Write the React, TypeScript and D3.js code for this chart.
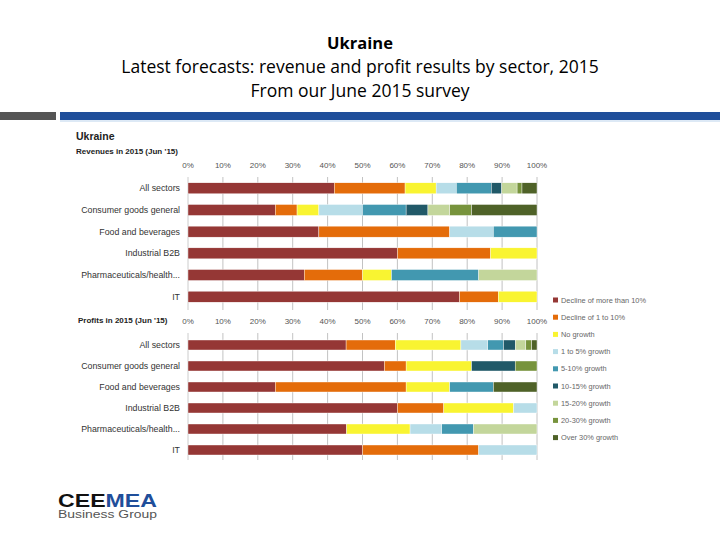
import React from "react";
import * as d3 from "d3";

const categories = [
  "All sectors",
  "Consumer goods general",
  "Food and beverages",
  "Industrial B2B",
  "Pharmaceuticals/health...",
  "IT",
];

const seriesNames = [
  "Decline of more than 10%",
  "Decline of 1 to 10%",
  "No growth",
  "1 to 5% growth",
  "5-10% growth",
  "10-15% growth",
  "15-20% growth",
  "20-30% growth",
  "Over 30% growth",
];

const seriesColors = [
  "#953735",
  "#E46C0A",
  "#F9F431",
  "#B7DDE8",
  "#4298B0",
  "#215968",
  "#C3D69B",
  "#77933C",
  "#4F6228",
];

// Revenues in 2015 (Jun '15), per series across categories
const revDeclineMore = [41.9, 25, 37.5, 60, 33.3, 77.8];
const revDecline1to10 = [20.3, 6.25, 37.5, 26.7, 16.7, 11.1];
const revNoGrowth = [8.9, 6.25, 0, 13.3, 8.3, 11.1];
const revGrowth1to5 = [5.8, 12.5, 12.5, 0, 0, 0];
const revGrowth5to10 = [10.0, 12.5, 12.5, 0, 25, 0];
const revGrowth10to15 = [3.0, 6.25, 0, 0, 0, 0];
const revGrowth15to20 = [4.4, 6.25, 0, 0, 16.7, 0];
const revGrowth20to30 = [1.4, 6.25, 0, 0, 0, 0];
const revGrowthOver30 = [4.3, 18.75, 0, 0, 0, 0];

// Profits in 2015 (Jun '15)
const profDeclineMore = [45.3, 56.25, 25, 60, 45.45, 50];
const profDecline1to10 = [14.1, 6.25, 37.5, 13.3, 0, 33.3];
const profNoGrowth = [18.8, 18.75, 12.5, 20, 18.18, 0];
const profGrowth1to5 = [7.7, 0, 0, 6.7, 9.09, 16.7];
const profGrowth5to10 = [4.5, 0, 12.5, 0, 9.09, 0];
const profGrowth10to15 = [3.4, 12.5, 0, 0, 0, 0];
const profGrowth15to20 = [3.0, 0, 0, 0, 18.18, 0];
const profGrowth20to30 = [1.7, 6.25, 0, 0, 0, 0];
const profGrowthOver30 = [1.5, 0, 12.5, 0, 0, 0];

const tickValues = [0, 10, 20, 30, 40, 50, 60, 70, 80, 90, 100];

const revSeries = [
  revDeclineMore, revDecline1to10, revNoGrowth, revGrowth1to5, revGrowth5to10,
  revGrowth10to15, revGrowth15to20, revGrowth20to30, revGrowthOver30,
];
const profSeries = [
  profDeclineMore, profDecline1to10, profNoGrowth, profGrowth1to5, profGrowth5to10,
  profGrowth10to15, profGrowth15to20, profGrowth20to30, profGrowthOver30,
];

function buildRows(series: number[][]) {
  return categories.map((c, i) => {
    const row: any = { cat: c };
    seriesNames.forEach((s, j) => (row[s] = series[j][i]));
    return row;
  });
}

const x = d3.scaleLinear().domain([0, 100]).range([188, 537]);
const stack = d3.stack<any>().keys(seriesNames);

const FONT = "'Liberation Sans', Arial, sans-serif";

function Panel({
  series, yTop, yBottom, barH, tickY, gridTop, gridBottom,
}: {
  series: number[][]; yTop: number; yBottom: number; barH: number;
  tickY: number; gridTop: number; gridBottom: number;
}) {
  const y = d3.scalePoint<string>().domain(categories).range([yTop, yBottom]);
  const stacked = stack(buildRows(series));
  return (
    <g>
      {tickValues.map((t) => (
        <g key={t}>
          <line x1={x(t)} x2={x(t)} y1={gridTop} y2={gridBottom} stroke={t === 0 ? "#bfbfbf" : "#b3b3b3"} strokeWidth={0.8} />
          <text x={x(t)} y={tickY} textAnchor="middle" dominantBaseline="central" fontSize={8} fill="#555" fontFamily={FONT}>
            {t}%
          </text>
        </g>
      ))}
      {stacked.map((layer, j) => (
        <g key={layer.key} fill={seriesColors[j]}>
          {layer.map((d, i) =>
            d[1] - d[0] > 0 ? (
              <rect key={i} x={x(d[0])} width={x(d[1]) - x(d[0])} y={(y(categories[i]) as number) - barH / 2} height={barH} stroke="#fff" strokeWidth={0.4} />
            ) : null
          )}
        </g>
      ))}
      {categories.map((c) => (
        <text key={c} x={180} y={y(c) as number} textAnchor="end" dominantBaseline="central" fontSize={8.8} fill="#333" fontFamily={FONT}>
          {c}
        </text>
      ))}
    </g>
  );
}

export default function App() {
  return (
    <svg width={720} height={540} style={{ position: "absolute", left: 0, top: 0, background: "#fff" }}>
      <rect width={720} height={540} fill="#fff" />
      <g fontFamily="'Open Sans', 'Liberation Sans', sans-serif" fill="#000" textAnchor="middle">
        <text x={360} y={49} fontSize={16.5} fontWeight="bold">Ukraine</text>
        <text x={360} y={73} fontSize={17.5}>Latest forecasts: revenue and profit results by sector, 2015</text>
        <text x={360} y={97} fontSize={17.5}>From our June 2015 survey</text>
      </g>
      <rect x={0} y={112} width={56} height={8} fill="#555" />
      <rect x={60} y={112} width={660} height={8} fill="#1F4E9A" />
      <line x1={60} x2={720} y1={121} y2={121} stroke="#BBD3EC" strokeWidth={1} />

      <text x={76} y={140} fontSize={10.5} fontWeight="bold" fill="#222" fontFamily={FONT}>Ukraine</text>
      <text x={76} y={154} fontSize={8} fontWeight="bold" fill="#222" fontFamily={FONT}>Revenues in 2015 (Jun '15)</text>
      <text x={78} y={323} fontSize={8} fontWeight="bold" fill="#222" fontFamily={FONT}>Profits in 2015 (Jun '15)</text>

      <Panel series={revSeries} yTop={188.3} yBottom={296.7} barH={11} tickY={165} gridTop={177} gridBottom={310} />
      <Panel series={profSeries} yTop={345} yBottom={450} barH={10} tickY={321} gridTop={333} gridBottom={460} />

      {seriesNames.map((s, i) => (
        <g key={s} transform={`translate(553, ${300 + i * 17.2})`}>
          <rect x={0} y={-2.5} width={5} height={5} fill={seriesColors[i]} />
          <text x={8} y={0} dominantBaseline="central" fontSize={7.4} fill="#666" fontFamily={FONT}>{s}</text>
        </g>
      ))}

      <text x={58} y={507} fontSize={19} fontWeight="900" fontFamily="'Liberation Sans', Arial, sans-serif" textLength={99} lengthAdjust="spacingAndGlyphs">
        <tspan fill="#111">CEE</tspan><tspan fill="#1F4E9A">MEA</tspan>
      </text>
      <text x={58} y={518} fontSize={10} fill="#555" fontFamily="'Liberation Sans', Arial, sans-serif" textLength={99} lengthAdjust="spacingAndGlyphs">Business Group</text>
    </svg>
  );
}
